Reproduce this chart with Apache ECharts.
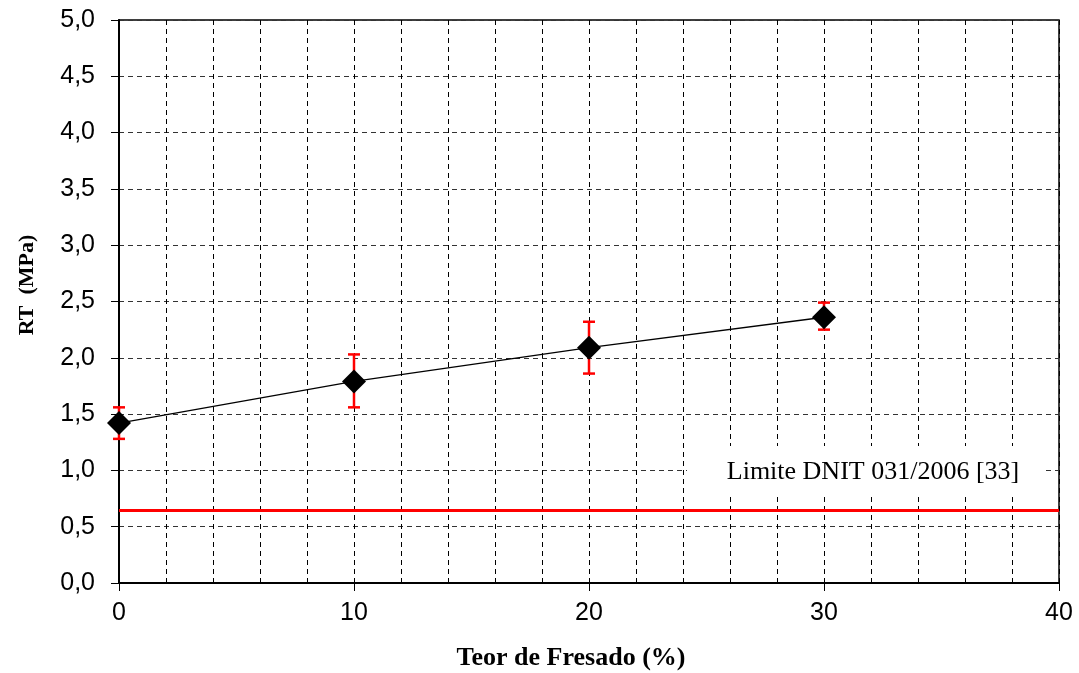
<!DOCTYPE html>
<html>
<head>
<meta charset="utf-8">
<script src="https://cdn.jsdelivr.net/npm/echarts@6/dist/echarts.min.js"></script>
<style>html,body{margin:0;padding:0;background:#fff}#c{width:1079px;height:673px}</style>
</head>
<body>
<div id="c"></div>
<script>
// ---- data ----
const teorFresado = [0, 10, 20, 30];
const rtMean = [1.42, 1.79, 2.09, 2.36];
const rtLow = [1.28, 1.56, 1.86, 2.25];
const rtHigh = [1.56, 2.03, 2.32, 2.49];
const limiteDNIT = 0.65;
const limiteLabel = 'Limite DNIT 031/2006 [33]';
const xTitle = 'Teor de Fresado (%)';
const yTitle = 'RT  (MPa)';

const chart = echarts.init(document.getElementById('c'));
const serif = '"Liberation Serif","Times New Roman",serif';
const sans = '"Liberation Sans",Arial,sans-serif';

const lineData = teorFresado.map((x, i) => [x, rtMean[i]]);
const errData = teorFresado.map((x, i) => [x, rtLow[i], rtHigh[i]]);

chart.setOption({
  animation: false,
  backgroundColor: '#fff',
  grid: { left: 119, right: 20, top: 20, bottom: 90, show: true, borderColor: '#000', borderWidth: 1.5, backgroundColor: 'transparent' },
  xAxis: {
    type: 'value', min: 0, max: 40, interval: 10,
    axisLine: { show: true, onZero: false, lineStyle: { color: '#000', width: 2 } },
    axisTick: { show: true, inside: false, length: 8, lineStyle: { color: '#000', width: 1 } },
    axisLabel: { fontFamily: sans, fontSize: 25, color: '#000', margin: 18 },
    splitLine: { show: true, lineStyle: { color: '#000', type: [5, 4], width: 1 } },
    minorTick: { show: false, splitNumber: 5 },
    minorSplitLine: { show: true, lineStyle: { color: '#000', type: [5, 4], width: 1 } }
  },
  yAxis: {
    type: 'value', min: 0, max: 5, interval: 0.5,
    axisLine: { show: true, onZero: false, lineStyle: { color: '#000', width: 2 } },
    axisTick: { show: true, inside: false, length: 8, lineStyle: { color: '#000', width: 1 } },
    axisLabel: { fontFamily: sans, fontSize: 25, color: '#000', margin: 24,
      formatter: v => v.toFixed(1).replace('.', ',') },
    splitLine: { show: true, lineStyle: { color: '#333', type: [5, 4], width: 1 } }
  },
  graphic: [
    { type: 'text', z: 100, x: 571, y: 658,
      style: { text: xTitle, font: 'bold 26px ' + serif, fill: '#000', textAlign: 'center', textVerticalAlign: 'middle' } },
    { type: 'text', z: 100, x: 27, y: 285, rotation: Math.PI / 2,
      style: { text: yTitle, font: 'bold 22px ' + serif, fill: '#000', textAlign: 'center', textVerticalAlign: 'middle' } },
    { type: 'rect', z: 50, shape: { x: 687, y: 446, width: 356, height: 51 }, style: { fill: '#fff' } },
    { type: 'text', z: 51, x: 873, y: 472,
      style: { text: limiteLabel, font: '26px ' + serif, fill: '#000', textAlign: 'center', textVerticalAlign: 'middle' } }
  ],
  series: [
    {
      type: 'line', data: [], silent: true,
      markLine: {
        symbol: ['none', 'none'], silent: true, z: 60,
        label: { show: false },
        lineStyle: { color: '#ff0000', width: 3, type: 'solid' },
        data: [{ yAxis: limiteDNIT }]
      }
    },
    {
      type: 'custom', z: 3, clip: false,
      data: errData,
      renderItem: function (params, api) {
        const x = api.value(0), lo = api.value(1), hi = api.value(2);
        const t = api.coord([x, hi]), b = api.coord([x, lo]);
        const w = 6;
        const st = { stroke: '#ff0000', lineWidth: 2.5 };
        return { type: 'group', children: [
          { type: 'line', shape: { x1: t[0], y1: t[1], x2: b[0], y2: b[1] }, style: st },
          { type: 'line', shape: { x1: t[0] - w, y1: t[1], x2: t[0] + w, y2: t[1] }, style: st },
          { type: 'line', shape: { x1: b[0] - w, y1: b[1], x2: b[0] + w, y2: b[1] }, style: st }
        ] };
      }
    },
    {
      type: 'line', z: 5, clip: false,
      data: lineData,
      symbol: 'diamond', symbolSize: 24,
      itemStyle: { color: '#000' },
      lineStyle: { color: '#000', width: 1.3 }
    }
  ]
});
</script>
</body>
</html>
